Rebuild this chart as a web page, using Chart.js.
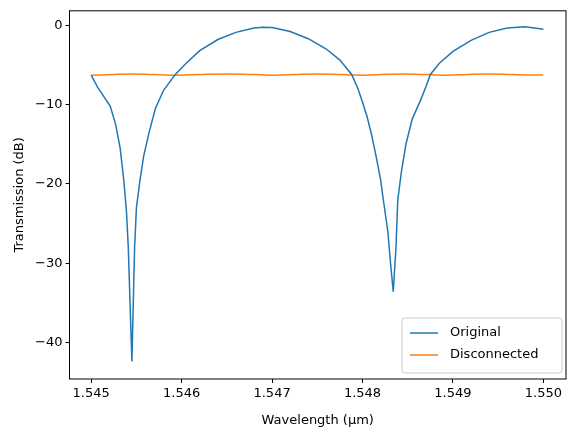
<!DOCTYPE html>
<html>
<head>
<meta charset="utf-8">
<script src="https://cdn.jsdelivr.net/npm/chart.js@4"></script>
<style>body{margin:0;background:#fff}</style>
</head>
<body>
<canvas id="c" width="574" height="432"></canvas>
<script>
// Original ring response (wavelength in um, dB)
var origX = [1.54500,1.54507,1.54514,1.54521,1.54527,1.54532,1.54536,1.54539,1.54541,1.54545,1.54548,1.54550,1.54554,1.54558,1.54564,1.54571,1.54580,1.54593,1.54605,1.54620,1.54640,1.54660,1.54680,1.54690,1.54700,1.54720,1.54740,1.54760,1.54775,1.54788,1.54795,1.54800,1.54805,1.54810,1.54815,1.54820,1.54823,1.54828,1.54831,1.54834,1.54837,1.54839,1.54843,1.54848,1.54855,1.54864,1.54870,1.54875,1.54885,1.54900,1.54920,1.54940,1.54960,1.54980,1.55000];
var origY = [-6.3,-7.8,-9.0,-10.2,-12.5,-15.5,-19.5,-23.5,-28,-42.4,-28,-23,-19.5,-16.5,-13.5,-10.5,-8.2,-6.2,-4.8,-3.2,-1.8,-0.9,-0.35,-0.25,-0.3,-0.8,-1.7,-3.0,-4.4,-6.2,-8.0,-9.7,-11.5,-13.8,-16.5,-19.5,-22,-26,-30,-33.6,-28,-22,-18.5,-15,-11.8,-9.5,-7.8,-6.2,-4.8,-3.3,-1.9,-0.9,-0.35,-0.2,-0.5];
var discX = [1.54500,1.54525,1.54545,1.54570,1.54590,1.54620,1.54650,1.54680,1.54700,1.54725,1.54750,1.54775,1.54800,1.54820,1.54845,1.54870,1.54890,1.54915,1.54940,1.54965,1.54990,1.55000];
var discY = [-6.3,-6.2,-6.15,-6.22,-6.3,-6.22,-6.15,-6.22,-6.3,-6.22,-6.15,-6.22,-6.3,-6.2,-6.15,-6.22,-6.3,-6.2,-6.15,-6.22,-6.27,-6.25];
var xTicks = [1.545,1.546,1.547,1.548,1.549,1.550];
var yTicks = [-40,-30,-20,-10,0];

function pts(xs, ys) {
  return xs.map(function(x, i){ return {x: x, y: ys[i]}; });
}
function minus(v) { return String(v).replace('-', '\u2212'); }

var boxPlugin = {
  id: 'box',
  afterDraw: function(chart) {
    var ctx = chart.ctx, a = chart.chartArea;
    ctx.save();
    ctx.strokeStyle = '#000';
    ctx.lineWidth = 1;
    ctx.strokeRect(a.left, a.top, a.right - a.left, a.bottom - a.top);
    // legend in lower right, matplotlib style
    var w = 160, h = 55, x0 = a.right - w - 4, y0 = a.bottom - h - 6;
    ctx.fillStyle = 'rgba(255,255,255,0.8)';
    ctx.strokeStyle = '#cccccc';
    ctx.beginPath();
    ctx.roundRect(x0, y0, w, h, 3);
    ctx.fill(); ctx.stroke();
    ctx.font = '13px "DejaVu Sans"';
    ctx.textBaseline = 'middle';
    chart.data.datasets.forEach(function(ds, i) {
      var yy = y0 + 15 + i * 22;
      ctx.strokeStyle = ds.borderColor;
      ctx.lineWidth = 1.5;
      ctx.beginPath(); ctx.moveTo(x0 + 8, yy); ctx.lineTo(x0 + 36, yy); ctx.stroke();
      ctx.fillStyle = '#000';
      ctx.fillText(ds.label, x0 + 48, yy);
    });
    ctx.restore();
  }
};

new Chart(document.getElementById('c'), {
  type: 'scatter',
  data: {
    datasets: [
      {label: 'Original', data: pts(origX, origY), borderColor: '#1f77b4', showLine: true, pointRadius: 0, borderWidth: 1.5},
      {label: 'Disconnected', data: pts(discX, discY), borderColor: '#ff7f0e', showLine: true, pointRadius: 0, borderWidth: 1.5, cubicInterpolationMode: 'monotone'}
    ]
  },
  options: {
    responsive: false,
    animation: false,
    layout: {padding: {left: 8, right: 8, top: 9, bottom: 0}},
    plugins: {legend: {display: false}, tooltip: {enabled: false}},
    scales: {
      x: {
        type: 'linear', min: 1.54476, max: 1.55025,
        afterBuildTicks: function(s){ s.ticks = xTicks.map(function(v){ return {value: v}; }); },
        afterFit: function(s){ s.height = 53; },
        grid: {drawOnChartArea: false, tickLength: 4, color: '#000'},
        border: {display: false},
        ticks: {color: '#000', font: {family: 'DejaVu Sans', size: 13}, maxRotation: 0, padding: 3,
                callback: function(v){ return v.toFixed(3); }},
        title: {display: true, text: 'Wavelength (\u03bcm)', color: '#000', font: {family: 'DejaVu Sans', size: 13}, padding: {top: 2}}
      },
      y: {
        min: -44.6, max: 1.82,
        afterBuildTicks: function(s){ s.ticks = yTicks.map(function(v){ return {value: v}; }); },
        afterFit: function(s){ s.width = 61.5; },
        grid: {drawOnChartArea: false, tickLength: 4, color: '#000'},
        border: {display: false},
        ticks: {color: '#000', font: {family: 'DejaVu Sans', size: 13}, padding: 3, callback: function(v){ return minus(v); }},
        title: {display: true, text: 'Transmission (dB)', color: '#000', font: {family: 'DejaVu Sans', size: 13}}
      }
    }
  },
  plugins: [boxPlugin]
});
</script>
</body>
</html>
